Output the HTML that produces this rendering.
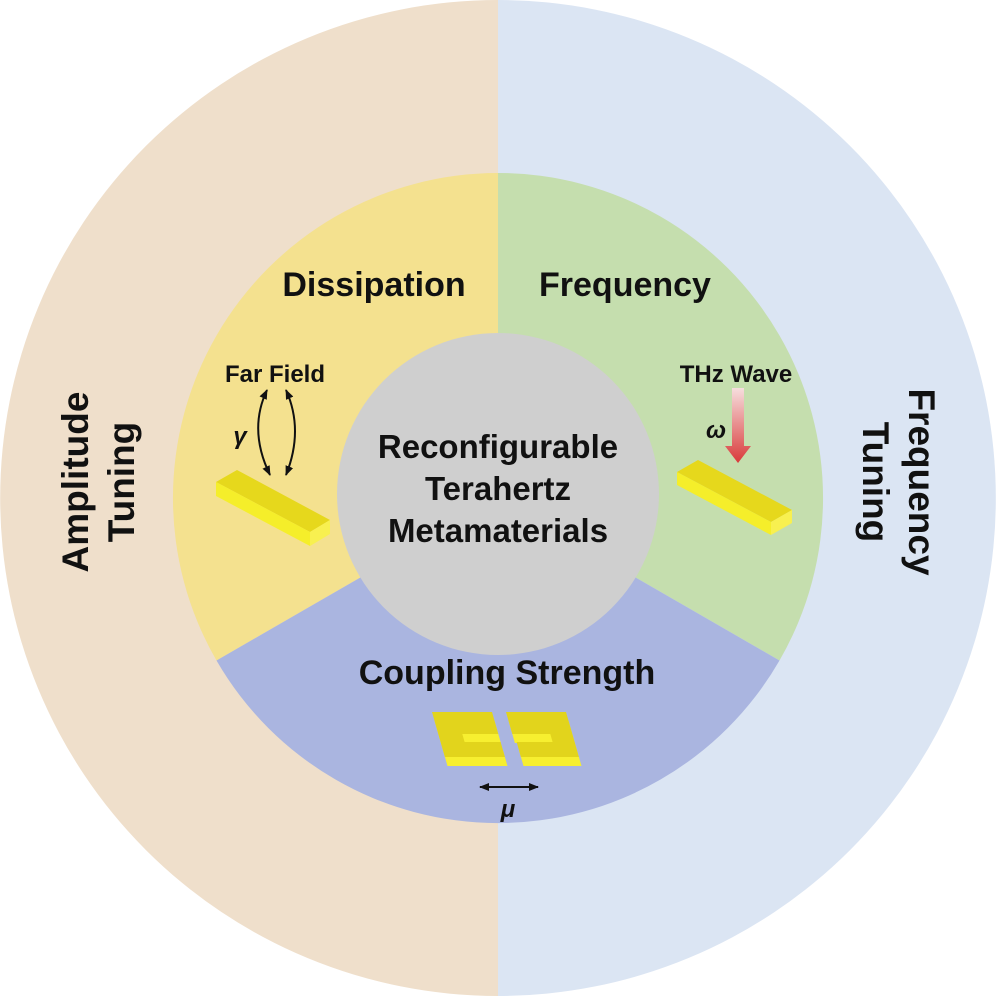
<!DOCTYPE html>
<html><head><style>
body{margin:0;background:#fff}
svg{display:block}
text{font-family:"Liberation Sans",Arial,sans-serif;font-weight:bold;fill:#111}
</style></head><body>
<svg width="996" height="996" viewBox="0 0 996 996">
<defs>
<linearGradient id="rg" x1="0" y1="0" x2="0" y2="1"><stop offset="0" stop-color="#f6dede"/><stop offset="1" stop-color="#d93a3a"/></linearGradient>
<marker id="ah" markerUnits="userSpaceOnUse" markerWidth="10" markerHeight="10" refX="9" refY="5" orient="auto-start-reverse"><path d="M0,1 L10,5 L0,9 z" fill="#111"/></marker>
</defs>
<path d="M498,0 A498,498 0 0 0 498,996 Z" fill="#efdfcb"/>
<path d="M498,0 A498,498 0 0 1 498,996 Z" fill="#dbe5f3"/>
<path d="M498,498 L498,173 A325,325 0 0 0 216.5,660.5 Z" fill="#f4e18f"/>
<path d="M498,498 L498,173 A325,325 0 0 1 779.5,660.5 Z" fill="#c5deae"/>
<path d="M498,498 L216.5,660.5 A325,325 0 0 0 779.5,660.5 Z" fill="#aab5e0"/>
<circle cx="498" cy="494" r="161" fill="#cfcfcf"/>
<text x="374" y="296" font-size="34" text-anchor="middle">Dissipation</text>
<text x="625" y="296" font-size="34" text-anchor="middle">Frequency</text>
<text x="507" y="684" font-size="34" text-anchor="middle">Coupling Strength</text>
<text x="498" y="458" font-size="33" text-anchor="middle">Reconfigurable</text>
<text x="498" y="500" font-size="33" text-anchor="middle">Terahertz</text>
<text x="498" y="542" font-size="33" text-anchor="middle">Metamaterials</text>
<text x="275" y="382" font-size="24" text-anchor="middle">Far Field</text>
<text x="736" y="382" font-size="24" text-anchor="middle">THz Wave</text>
<text x="240" y="444" font-size="24" font-style="italic" text-anchor="middle">γ</text>
<text x="716" y="438" font-size="24" font-style="italic" text-anchor="middle">ω</text>
<text x="508" y="817" font-size="24" font-style="italic" text-anchor="middle">μ</text>
<text transform="translate(97,482) rotate(-90)" font-size="37" text-anchor="middle"><tspan x="0" y="-9">Amplitude</tspan><tspan x="0" y="37">Tuning</tspan></text>
<text transform="translate(900,482) rotate(90)" font-size="37" text-anchor="middle"><tspan x="0" y="-9">Frequency</tspan><tspan x="0" y="37">Tuning</tspan></text>
<path d="M267,390 Q248,430 270,475" fill="none" stroke="#111" stroke-width="2" marker-end="url(#ah)" marker-start="url(#ah)"/>
<path d="M286,390 Q304,430 286,475" fill="none" stroke="#111" stroke-width="2" marker-end="url(#ah)" marker-start="url(#ah)"/>
<polygon points="216,482 237,470 330,520 310,532" fill="#e6d81c"/>
<polygon points="216,482 310,532 310,546 216,496" fill="#f5ee2a"/>
<polygon points="310,532 330,520 330,534 310,546" fill="#f8f050"/>
<polygon points="677,472 698,460 792,510 771,522" fill="#e6d81c"/>
<polygon points="677,472 771,522 771,535 677,485" fill="#f5ee2a"/>
<polygon points="771,522 792,510 792,523 771,535" fill="#f8f050"/>
<polygon points="732,388 744,388 744,446 751,446 738,463 725,446 732,446" fill="url(#rg)"/>
<g transform="translate(432,712) skewX(16)">
 <path transform="translate(0,9)" d="M0,0 H60 V22 H24 V30 H60 V45 H0 Z" fill="#f7ef30"/>
 <path d="M0,0 H60 V22 H24 V30 H60 V45 H0 Z" fill="#e2d41c"/>
</g>
<g transform="translate(506,712) skewX(16)">
 <path transform="translate(0,9)" d="M0,0 H60 V45 H2 V30 H38 V22 H0 Z" fill="#f7ef30"/>
 <path d="M0,0 H60 V45 H2 V30 H38 V22 H0 Z" fill="#e2d41c"/>
</g>
<line x1="480" y1="787" x2="538" y2="787" stroke="#111" stroke-width="2" marker-end="url(#ah)" marker-start="url(#ah)"/>
</svg>
</body></html>
